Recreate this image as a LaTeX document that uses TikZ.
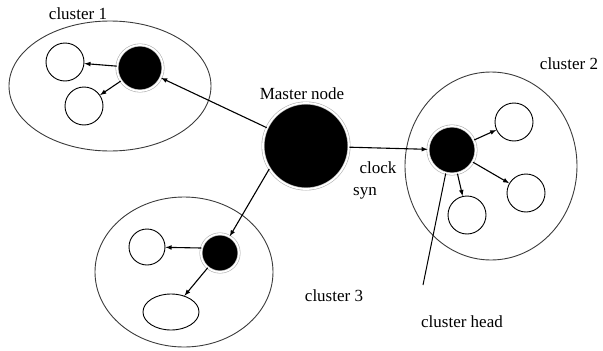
\documentclass[tikz,border=0pt]{standalone}
\usepackage{fontspec}
\setmainfont{Liberation Serif}
\usepackage{tikz}
\usetikzlibrary{shapes.geometric, arrows, positioning, calc}
\definecolor{cllgray}{RGB}{60,60,60}
\definecolor{halogray}{RGB}{175,175,175}

\begin{document}
\begin{tikzpicture}[x=1pt,y=-1pt,
  member/.style={draw=black,circle,fill=white,inner sep=0pt,minimum size=38pt,line width=0.9pt},
  head/.style={circle,fill=black,inner sep=0pt,draw=halogray,double=white,double distance=1.8pt,line width=0.6pt},
  link/.style={-latex,line width=1.1pt},
  lbl/.style={font=\fontsize{17}{19}\selectfont,inner sep=0pt}]
\useasboundingbox (0,0) rectangle (603,351);
% clusters
\draw[cllgray,line width=0.9pt] (110,86) ellipse (101pt and 65pt);
\draw[cllgray,line width=0.9pt] (491,166) ellipse (86pt and 94pt);
\draw[cllgray,line width=0.9pt] (184,272) ellipse (89pt and 75pt);
% master
\node[head,minimum size=86pt] (master) at (306,146) {};
\node[lbl] at (302,94) {Master node};
% cluster 1
\node[head,minimum size=46pt] (h1) at (140,68) {};
\node[member] (a1) at (65,62) {};
\node[member] (b1) at (84,106) {};
\node[lbl] at (78,14) {cluster 1};
% cluster 2
\node[head,minimum size=48pt] (h2) at (452,150) {};
\node[member] (a2) at (514,122) {};
\node[member] (b2) at (526,193) {};
\node[member] (c2) at (467,215) {};
\node[lbl] at (569,64) {cluster 2};
% cluster 3
\node[head,minimum size=38pt] (h3) at (220,253) {};
\node[member,minimum size=36pt] (a3) at (147,247) {};
\node[draw=black,ellipse,minimum width=56pt,minimum height=36pt,inner sep=0pt,line width=0.9pt] (b3) at (171,312) {};
\node[lbl] at (334,296) {cluster 3};
% links
\draw[link] (master.155) -- (h1);
\draw[link] (master) -- (h2);
\draw[link] (master.212) -- (h3);
\draw[link] (h1) -- (a1);
\draw[link] (h1) -- (b1);
\draw[link] (h2) -- (a2);
\draw[link] (h2) -- (b2);
\draw[link] (h2) -- (c2);
\draw[link] (h3.165) -- (a3);
\draw[link] (h3) -- (b3);
\node[lbl] at (378,168) {clock};
\node[lbl] at (365,193) {syn};
% cluster head pointer
\node[lbl] (chead) at (462,322) {cluster head};
\coordinate (cend) at (423,285);
\draw[line width=1pt] (h2.255) -- (cend);
\end{tikzpicture}
\end{document}
